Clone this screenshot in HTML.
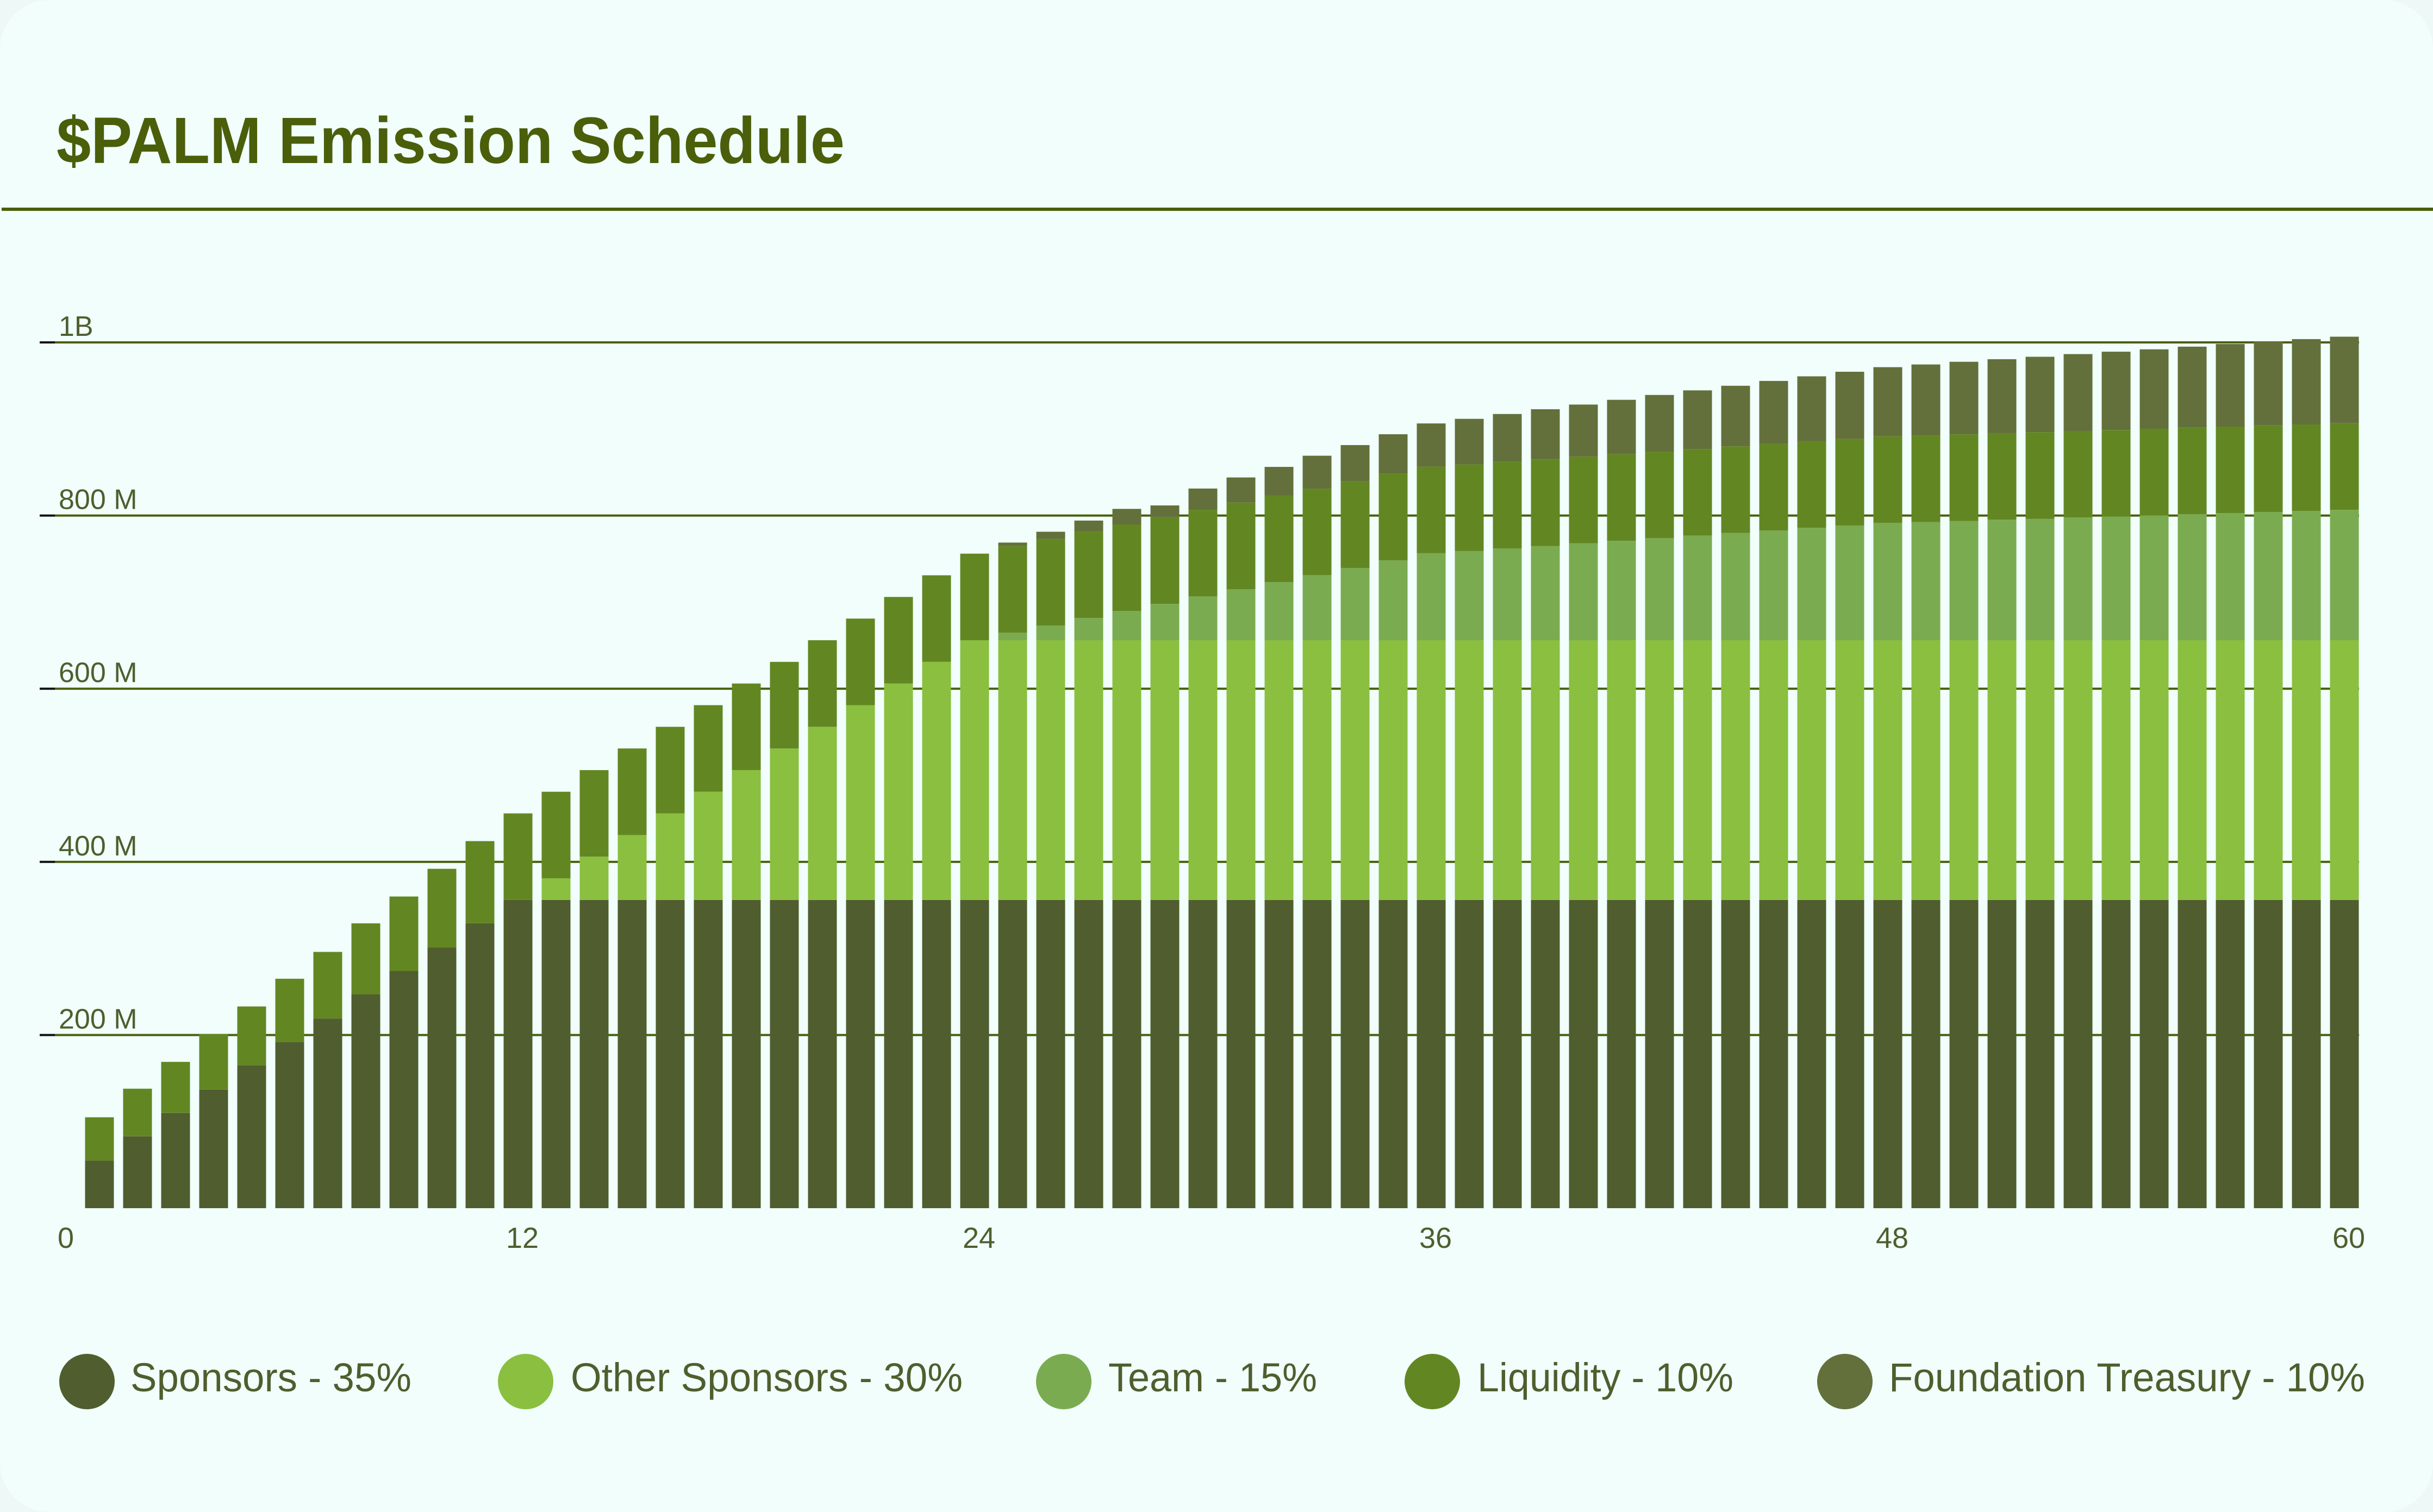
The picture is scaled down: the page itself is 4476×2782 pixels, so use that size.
<!DOCTYPE html>
<html><head><meta charset="utf-8"><style>
html,body{margin:0;padding:0;background:#eef8f6;}
svg{display:block;}
</style></head><body>
<svg id="chart" width="4476" height="2782" viewBox="0 0 4476 2782" xmlns="http://www.w3.org/2000/svg">
<rect x="0" y="0" width="4476" height="2782" rx="90" fill="#f1fefc"/>
<text x="104" y="300" font-family="Liberation Sans, sans-serif" font-weight="bold" font-size="121" fill="#4b5e0a" textLength="1450" lengthAdjust="spacingAndGlyphs">$PALM Emission Schedule</text>
<rect x="3" y="382" width="4473" height="6" fill="#4b5e0a"/>
<g id="grid"></g>
<g id="bars"></g>
<g id="xticks"></g>
<g id="legend"></g>
</svg>
<script>
const months = Array.from({length:60},(_,i)=>i+1);
const sponsors = [55,83,110,137,165,192,219,247,274,301,329,356,356,356,356,356,356,356,356,356,356,356,356,356,356,356,356,356,356,356,356,356,356,356,356,356,356,356,356,356,356,356,356,356,356,356,356,356,356,356,356,356,356,356,356,356,356,356,356,356];
const otherSponsors = [0,0,0,0,0,0,0,0,0,0,0,0,25,50,75,100,125,150,175,200,225,250,275,300,300,300,300,300,300,300,300,300,300,300,300,300,300,300,300,300,300,300,300,300,300,300,300,300,300,300,300,300,300,300,300,300,300,300,300,300];
const team = [0,0,0,0,0,0,0,0,0,0,0,0,0,0,0,0,0,0,0,0,0,0,0,0,8.8,17,25.6,33.7,42,50.6,59,67,75.1,83.5,92.2,100.5,103,106.1,108.9,112,114.8,117.8,120.9,123.9,126.7,129.8,132.5,135.6,136.4,137.8,139.2,140.3,141.7,142.8,144.2,145.6,146.7,148.1,149.2,150.6];
const liquidity = [50,55,59,64,68,73,77,82,86,91,95,100,100,100,100,100,100,100,100,100,100,100,100,100,100,100,100,100,100,100,100,100,100,100,100,100,100,100,100,100,100,100,100,100,100,100,100,100,100,100,100,100,100,100,100,100,100,100,100,100];
const treasury = [0,0,0,0,0,0,0,0,0,0,0,0,0,0,0,0,0,0,0,0,0,0,0,0,4,8.3,12.6,18,13.7,24.6,29,33.2,38,41.9,45.7,49.9,52.7,55.2,57.9,60.2,62.9,65.5,67.7,70,72.8,75,77.6,79.8,82.1,83.8,85.4,87.1,88.8,90.5,91.8,93.5,95.5,96.9,98.6,100];
const yTicks = [200,400,600,800,1000];
const yTickLabels = ["200 M","400 M","600 M","800 M","1B"];
const xTicks = [0,12,24,36,48,60];
const seriesNames = ["Sponsors - 35%","Other Sponsors - 30%","Team - 15%","Liquidity - 10%","Foundation Treasury - 10%"];

const NS="http://www.w3.org/2000/svg";
const colors=["#505d2e","#8abf40","#7bab50","#628722","#63703b"];
const keys=["sponsors","other-sponsors","team","liquidity","foundation-treasury"];
const series=[sponsors,otherSponsors,team,liquidity,treasury];
const y0=2223, yTop=630;
function y(v){return y0-(v/1000)*(y0-yTop);}
function x(m){return 113+m*70;}
function mk(tag,attrs,parent){const e=document.createElementNS(NS,tag);for(const k in attrs)e.setAttribute(k,attrs[k]);parent.appendChild(e);return e;}
const grid=document.getElementById('grid');
yTicks.forEach((v,i)=>{
  const l=mk('rect',{x:100,y:y(v)-2,width:4240,height:4,fill:'#4b5e0a'},grid);
  
  
  const tk=mk('rect',{x:73,y:y(v)-2,width:28,height:4,fill:'#111'},grid);
  
  
  const t=mk('text',{x:108,y:y(v)-12,'font-family':'Liberation Sans, sans-serif','font-size':52,fill:'#4f5e2d'},grid);
  t.textContent=yTickLabels[i];
  
  
});
const bars=document.getElementById('bars');
months.forEach((m,i)=>{
  let base=0;
  series.forEach((s,k)=>{
    const v=s[i]; if(v<=0) return;
    const r=mk('rect',{x:x(m)-26.5,y:y(base+v),width:53,height:y(base)-y(base+v),fill:colors[k]},bars);
    
    
    base+=v;
  });
});
const xt=document.getElementById('xticks');
xTicks.forEach(v=>{
  const t=mk('text',{x:x(v)+8,y:2296,'text-anchor':'middle','font-family':'Liberation Sans, sans-serif','font-size':54,fill:'#4f5e2d'},xt);
  t.textContent=String(v);
  
  
});
const lg=document.getElementById('legend');
const lcx=[160,967,1957,2635,3394], ltx=[240,1050,2039,2718,3475], lw=[517,721,384,471,876];
seriesNames.forEach((n,k)=>{
  const c=mk('circle',{cx:lcx[k],cy:2542,r:51,fill:colors[k]},lg);
  
  
  const t=mk('text',{x:ltx[k],y:2560,'font-family':'Liberation Sans, sans-serif','font-size':74,fill:'#4f5e2d',textLength:lw[k],lengthAdjust:'spacingAndGlyphs'},lg);
  t.textContent=n;
  
  
});
</script>
</body></html>
